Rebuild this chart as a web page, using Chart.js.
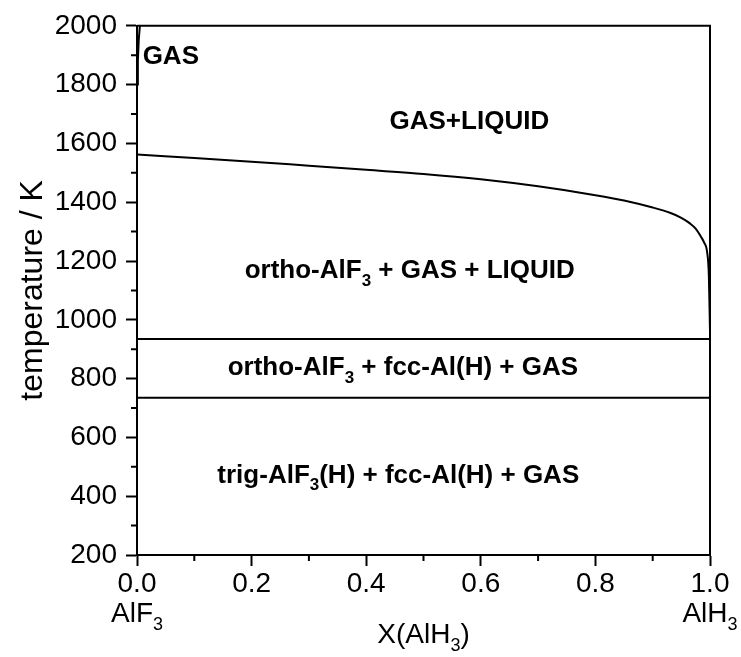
<!DOCTYPE html>
<html>
<head>
<meta charset="utf-8">
<script src="https://cdn.jsdelivr.net/npm/chart.js@4.4.1/dist/chart.umd.min.js"></script>
<style>
  body { margin: 0; background: #fff; }
  #wrap { width: 741px; height: 657px; }
</style>
</head>
<body>
<div id="wrap"><canvas id="phaseChart"></canvas></div>
<script>
// liquidus: ortho-AlF3 + GAS + LIQUID / GAS + LIQUID boundary
const liqX = [0, 0.1, 0.2, 0.3, 0.4, 0.5, 0.6, 0.7, 0.8, 0.85, 0.9, 0.93, 0.95, 0.965, 0.975, 0.985, 0.99, 0.995, 0.998, 1.0];
const liqT = [1562, 1550, 1538, 1524, 1510, 1496, 1478, 1454, 1424, 1406, 1382, 1364, 1347, 1328, 1310, 1280, 1262, 1230, 1150, 960];
// gas boundary near pure AlF3
const gasX = [0, 0.0015, 0.003, 0.005];
const gasT = [1800, 1880, 1950, 2000];
// invariant lines
const invT = [935, 735];
// region labels (x, T, text; _3 = subscript)
const regionText = ['GAS', 'GAS+LIQUID', 'ortho-AlF_3 + GAS + LIQUID', 'ortho-AlF_3 + fcc-Al(H) + GAS', 'trig-AlF_3(H) + fcc-Al(H) + GAS'];
const regionX = [0.059, 0.58, 0.476, 0.464, 0.456];
const regionT = [1902, 1681, 1173, 844, 478];

const FONT = '"Liberation Sans", Arial, sans-serif';

function toPts(xs, ys) {
    return xs.map((x, i) => ({ x: x, y: ys[i] }));
}

function drawRich(ctx, text, x, y, size, bold, align) {
    const parts = text.split(/_(\d)/);
    const main = (bold ? 'bold ' : '') + size + 'px ' + FONT;
    const sub = (bold ? 'bold ' : '') + Math.round(size * 0.65) + 'px ' + FONT;
    let w = 0;
    parts.forEach((p, i) => {
        ctx.font = i % 2 ? sub : main;
        w += ctx.measureText(p).width;
    });
    let cx = align === 'left' ? x : x - w / 2;
    parts.forEach((p, i) => {
        ctx.font = i % 2 ? sub : main;
        ctx.fillText(p, cx, i % 2 ? y + size * 0.3 : y);
        cx += ctx.measureText(p).width;
    });
}

const decorPlugin = {
    id: 'decor',
    afterDraw(chart) {
        const ctx = chart.ctx;
        const a = chart.chartArea;
        const xs = chart.scales.x, ys = chart.scales.y;
        ctx.save();
        ctx.strokeStyle = '#000';
        ctx.fillStyle = '#000';
        ctx.lineWidth = 2;
        // frame top + right
        ctx.beginPath();
        ctx.moveTo(a.left, a.top);
        ctx.lineTo(a.right, a.top);
        ctx.lineTo(a.right, a.bottom);
        ctx.stroke();
        // minor ticks
        ctx.beginPath();
        for (let i = 1; i < 10; i += 2) {
            const px = xs.getPixelForValue(i / 10);
            ctx.moveTo(px, a.bottom);
            ctx.lineTo(px, a.bottom + 6);
        }
        for (let t = 300; t < 2000; t += 200) {
            const py = ys.getPixelForValue(t);
            ctx.moveTo(a.left, py);
            ctx.lineTo(a.left - 6, py);
        }
        ctx.stroke();
        // region labels
        ctx.textBaseline = 'alphabetic';
        regionText.forEach((t, i) => {
            const size = 26;
            drawRich(ctx, t, xs.getPixelForValue(regionX[i]), ys.getPixelForValue(regionT[i]) + size * 0.36, size, true, 'center');
        });
        // end-member labels
        drawRich(ctx, 'AlF_3', xs.getPixelForValue(0), 622, 28, false, 'center');
        drawRich(ctx, 'AlH_3', xs.getPixelForValue(1), 622, 28, false, 'center');
        // axis titles
        drawRich(ctx, 'X(AlH_3)', (a.left + a.right) / 2, 643, 28, false, 'center');
        ctx.translate(33, (a.top + a.bottom) / 2);
        ctx.rotate(-Math.PI / 2);
        ctx.textBaseline = 'middle';
        drawRich(ctx, 'temperature / K', 0, 0, 32, false, 'center');
        ctx.restore();
    }
};

const lineStyle = {
    showLine: true,
    borderColor: '#000',
    borderWidth: 2,
    pointRadius: 0,
    fill: false,
    tension: 0
};

new Chart('phaseChart', {
    type: 'scatter',
    data: {
        datasets: [
            Object.assign({ data: toPts(liqX, liqT), cubicInterpolationMode: 'monotone' }, lineStyle),
            Object.assign({ data: toPts(gasX, gasT) }, lineStyle),
            Object.assign({ data: toPts([0, 1], [invT[0], invT[0]]) }, lineStyle),
            Object.assign({ data: toPts([0, 1], [invT[1], invT[1]]) }, lineStyle)
        ]
    },
    plugins: [decorPlugin],
    options: {
        responsive: true,
        maintainAspectRatio: false,
        animation: false,
        layout: { padding: { top: 24, right: 31, left: 0, bottom: 0 } },
        plugins: {
            legend: { display: false },
            tooltip: { enabled: false }
        },
        scales: {
            x: {
                type: 'linear',
                min: 0,
                max: 1,
                afterFit: (s) => { s.height = 102; },
                border: { display: true, color: '#000', width: 2 },
                grid: {
                    drawOnChartArea: false,
                    tickLength: 11,
                    tickWidth: 2,
                    tickColor: (c) => (Math.round(c.tick.value * 10) % 2 ? 'rgba(0,0,0,0)' : '#000')
                },
                ticks: {
                    stepSize: 0.1,
                    autoSkip: false,
                    maxRotation: 0,
                    padding: 1,
                    color: '#000',
                    font: { family: FONT, size: 28 },
                    callback: (v) => (Math.round(v * 10) % 2 ? '' : v.toFixed(1))
                }
            },
            y: {
                min: 200,
                max: 2000,
                afterFit: (s) => { s.width = 137; },
                border: { display: true, color: '#000', width: 2 },
                grid: {
                    drawOnChartArea: false,
                    tickLength: 11,
                    tickWidth: 2,
                    tickColor: (c) => (c.tick.value % 200 ? 'rgba(0,0,0,0)' : '#000')
                },
                ticks: {
                    stepSize: 100,
                    autoSkip: false,
                    padding: 9,
                    color: '#000',
                    font: { family: FONT, size: 28 },
                    callback: (v) => (v % 200 ? '' : v)
                }
            }
        }
    }
});
</script>
</body>
</html>
